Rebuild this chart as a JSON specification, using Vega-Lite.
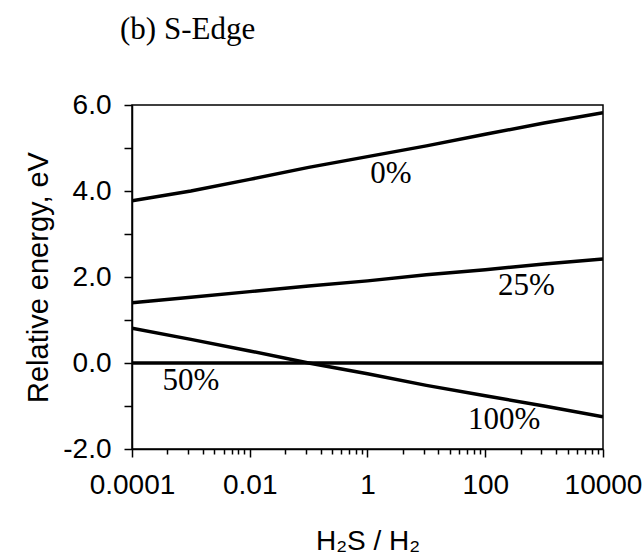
{
  "$schema": "https://vega.github.io/schema/vega-lite/v6.json",
  "width": 471,
  "height": 344,
  "autosize": {"type": "none"},
  "padding": {"left": 132, "top": 105, "right": 41, "bottom": 109},
  "background": "white",
  "title": {
    "text": "(b) S-Edge",
    "font": "Liberation Serif",
    "fontSize": 31,
    "fontWeight": "normal",
    "color": "black",
    "anchor": "start",
    "frame": "group",
    "baseline": "alphabetic",
    "offset": 21,
    "dx": -12
  },
  "config": {
    "view": {"stroke": "black", "strokeWidth": 1.5},
    "axis": {
      "domainColor": "black",
      "domainWidth": 1.5,
      "tickColor": "black",
      "tickWidth": 1.5,
      "labelColor": "black",
      "labelFont": "Liberation Sans",
      "labelFontSize": 28,
      "titleColor": "black",
      "titleFont": "Liberation Sans",
      "titleFontSize": 28,
      "titleFontWeight": "normal",
      "grid": false
    }
  },
  "datasets": {
    "curves": [
      {"series": "0%", "ratio": 0.0001, "energy": 3.77},
      {"series": "0%", "ratio": 0.001, "energy": 4.0},
      {"series": "0%", "ratio": 0.01, "energy": 4.27},
      {"series": "0%", "ratio": 0.1, "energy": 4.55},
      {"series": "0%", "ratio": 1, "energy": 4.8},
      {"series": "0%", "ratio": 10, "energy": 5.05},
      {"series": "0%", "ratio": 100, "energy": 5.32},
      {"series": "0%", "ratio": 1000, "energy": 5.58},
      {"series": "0%", "ratio": 10000, "energy": 5.82},
      {"series": "25%", "ratio": 0.0001, "energy": 1.4},
      {"series": "25%", "ratio": 0.001, "energy": 1.53},
      {"series": "25%", "ratio": 0.01, "energy": 1.66},
      {"series": "25%", "ratio": 0.1, "energy": 1.79},
      {"series": "25%", "ratio": 1, "energy": 1.91},
      {"series": "25%", "ratio": 10, "energy": 2.05},
      {"series": "25%", "ratio": 100, "energy": 2.17},
      {"series": "25%", "ratio": 1000, "energy": 2.3},
      {"series": "25%", "ratio": 10000, "energy": 2.42},
      {"series": "50%", "ratio": 0.0001, "energy": 0},
      {"series": "50%", "ratio": 10000, "energy": 0},
      {"series": "100%", "ratio": 0.0001, "energy": 0.81},
      {"series": "100%", "ratio": 0.001, "energy": 0.55},
      {"series": "100%", "ratio": 0.01, "energy": 0.28},
      {"series": "100%", "ratio": 0.1, "energy": 0.0},
      {"series": "100%", "ratio": 1, "energy": -0.25},
      {"series": "100%", "ratio": 10, "energy": -0.52},
      {"series": "100%", "ratio": 100, "energy": -0.76},
      {"series": "100%", "ratio": 1000, "energy": -1.0},
      {"series": "100%", "ratio": 10000, "energy": -1.25}
    ],
    "labels": [
      {"label": "0%", "ratio": 2.5, "energy": 4.4},
      {"label": "25%", "ratio": 500, "energy": 1.79},
      {"label": "50%", "ratio": 0.001, "energy": -0.43},
      {"label": "100%", "ratio": 210, "energy": -1.33}
    ]
  },
  "layer": [
    {
      "data": {"name": "curves"},
      "mark": {"type": "line", "color": "black", "strokeWidth": 3.5, "clip": true},
      "encoding": {
        "x": {
          "field": "ratio",
          "type": "quantitative",
          "scale": {"type": "log", "domain": [0.0001, 10000], "nice": false},
          "axis": {
            "title": "H₂S / H₂",
            "values": [0.0001, 0.0004, 0.0009, 0.0016, 0.0025, 0.0036, 0.0049, 0.0064, 0.0081,
                       0.01, 0.04, 0.09, 0.16, 0.25, 0.36, 0.49, 0.64, 0.81,
                       1, 4, 9, 16, 25, 36, 49, 64, 81,
                       100, 400, 900, 1600, 2500, 3600, 4900, 6400, 8100, 10000],
            "labelExpr": "indexof([0.0001, 0.01, 1, 100, 10000], datum.value) >= 0 ? datum.label : ''",
            "format": "~g",
            "tickSize": {"condition": {"test": "indexof([0.0001, 0.01, 1, 100, 10000], datum.value) >= 0", "value": 8}, "value": 5},
            "labelPadding": 14,
            "labelFlush": false,
            "labelOverlap": false,
            "titlePadding": 28
          }
        },
        "y": {
          "field": "energy",
          "type": "quantitative",
          "scale": {"domain": [-2, 6], "nice": false},
          "axis": {
            "title": "Relative energy, eV",
            "titleFontSize": 29,
            "values": [-2, -1.5, -1, -0.5, 0, 0.5, 1, 1.5, 2, 2.5, 3, 3.5, 4, 4.5, 5, 5.5, 6],
            "labelExpr": "datum.value % 2 === 0 ? replace(format(datum.value, '.1f'), '−', '-') : ''",
            "tickSize": 8,
            "labelPadding": 13,
            "labelOverlap": false,
            "labelFlush": false,
            "titlePadding": 9
          }
        },
        "detail": {"field": "series"}
      }
    },
    {
      "data": {"name": "labels"},
      "mark": {"type": "text", "font": "Liberation Serif", "fontSize": 31, "color": "black", "align": "center", "baseline": "middle"},
      "encoding": {
        "x": {"field": "ratio", "type": "quantitative"},
        "y": {"field": "energy", "type": "quantitative"},
        "text": {"field": "label"}
      }
    }
  ]
}
